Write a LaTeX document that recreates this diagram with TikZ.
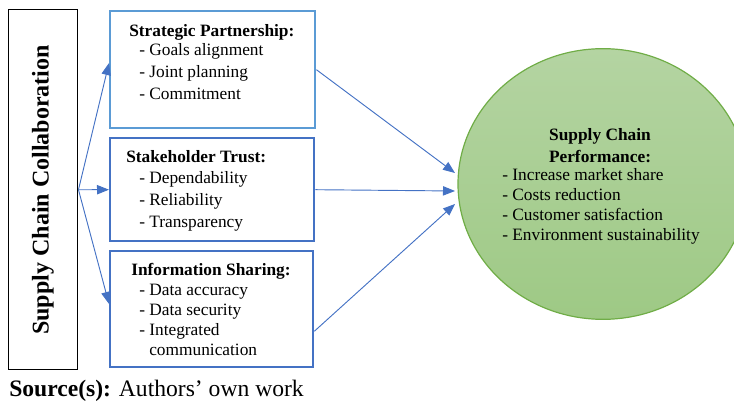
\documentclass[tikz,border=0pt]{standalone}
\usepackage{fontspec}
\setmainfont{Liberation Serif}
\usetikzlibrary{arrows.meta,positioning,shapes.geometric}

\definecolor{lblue}{HTML}{5B9BD5}
\definecolor{dblue}{HTML}{4472C4}
\definecolor{pgreen}{HTML}{70AD47}
\definecolor{gtop}{HTML}{B4D4A2}
\definecolor{gbot}{HTML}{9EC985}

\tikzset{
  factor/.style={draw=dblue, line width=1.8pt, anchor=north west, inner sep=0pt},
  link/.style={draw=dblue, line width=0.7pt, -{Triangle[length=9pt,width=7pt]}},
  txt/.style={anchor=north west, align=left, inner sep=0pt, font=\fontsize{13}{16.5}\selectfont},
}

\begin{document}
\begin{tikzpicture}[x=0.75pt,y=-0.75pt]
\useasboundingbox (0,0) rectangle (734,402);
\clip (0,0) rectangle (734,402);

% collaboration bar on the left
\node[draw=black, line width=1.1pt, anchor=north west, inner sep=0pt,
      minimum width=51.75pt, minimum height=270pt] (scc) at (8,9) {};
\node[rotate=90, font=\fontsize{18}{20}\selectfont\bfseries] (scct) at (43,190) {Supply Chain Collaboration};

% the three dimensions
\node[factor, draw=lblue, minimum width=153.75pt, minimum height=87.75pt] (sp) at (109,10) {};
\node[factor, minimum width=153pt, minimum height=77.25pt] (st) at (109,137) {};
\node[factor, minimum width=152.25pt, minimum height=87pt] (is) at (109,250) {};

\node[txt] (spt) at (129,24) {\textbf{Strategic Partnership:}\\[-2.2pt]
  \hspace*{7.5pt}- Goals alignment\\
  \hspace*{7.5pt}- Joint planning\\
  \hspace*{7.5pt}- Commitment};
\node[txt] (stt) at (126,150) {\textbf{Stakeholder Trust:}\\[-0.8pt]
  \hspace*{9.75pt}- Dependability\\
  \hspace*{9.75pt}- Reliability\\
  \hspace*{9.75pt}- Transparency};
\node[txt, font=\fontsize{13}{15}\selectfont] (ist) at (131,263) {\textbf{Information Sharing:}\\
  \hspace*{6pt}- Data accuracy\\
  \hspace*{6pt}- Data security\\
  \hspace*{6pt}- Integrated\\
  \hspace*{13.5pt}communication};

% performance
\node[ellipse, draw=pgreen, line width=0.9pt, top color=gtop, bottom color=gbot,
      minimum width=217.5pt, minimum height=203pt] (perf) at (603,184) {};
\node[align=center, inner sep=0pt, font=\fontsize{13}{16.5}\selectfont\bfseries] (perft) at (600,146)
  {Supply Chain\\Performance:};
\node[txt, font=\fontsize{13}{15}\selectfont] (perfi) at (502,168) {- Increase market share\\
  - Costs reduction\\
  - Customer satisfaction\\
  - Environment sustainability};

\coordinate (in1) at (455,173);
\coordinate (in2) at (455,191);
\coordinate (in3) at (455,204);

\draw[link] (scc.east) -- ([yshift=5pt]sp.west);
\draw[link] (scc.east) -- (st.west);
\draw[link] (scc.east) -- ([yshift=4pt]is.west);

\draw[link] (sp.east) -- (in1);
\draw[link] (st.east) -- (in2);
\draw[link] ([yshift=-16.5pt]is.east) -- (in3);

\node[anchor=base west, inner sep=0pt, font=\fontsize{17.7}{20}\selectfont] (src) at (9,396)
  {\textbf{Source(s):} Authors’ own work};
\end{tikzpicture}
\end{document}
